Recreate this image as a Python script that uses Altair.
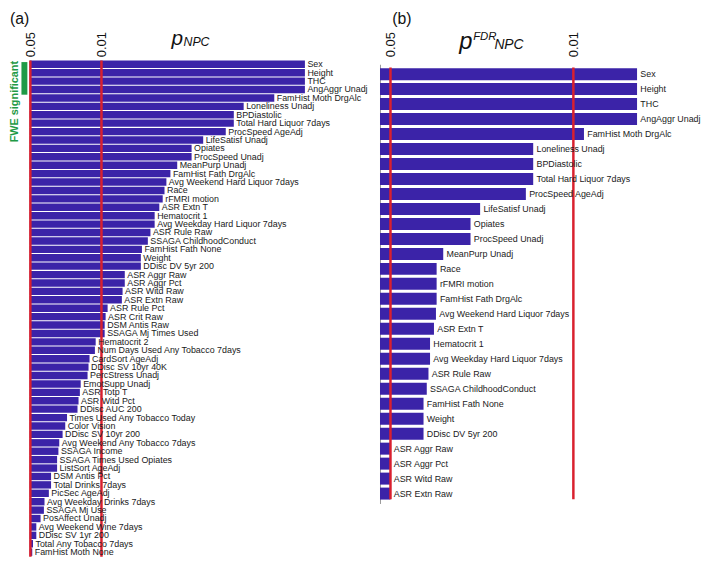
import math
import altair as alt
import pandas as pd

# ---------------- data ----------------
names_a = [
    "Sex", "Height", "THC", "AngAggr Unadj", "FamHist Moth DrgAlc",
    "Loneliness Unadj", "BPDiastolic", "Total Hard Liquor 7days", "ProcSpeed AgeAdj",
    "LifeSatisf Unadj", "Opiates", "ProcSpeed Unadj", "MeanPurp Unadj",
    "FamHist Fath DrgAlc", "Avg Weekend Hard Liquor 7days", "Race", "rFMRI motion",
    "ASR Extn T", "Hematocrit 1", "Avg Weekday Hard Liquor 7days", "ASR Rule Raw",
    "SSAGA ChildhoodConduct", "FamHist Fath None", "Weight", "DDisc DV 5yr 200",
    "ASR Aggr Raw", "ASR Aggr Pct", "ASR Witd Raw", "ASR Extn Raw", "ASR Rule Pct",
    "ASR Crit Raw", "DSM Antis Raw", "SSAGA Mj Times Used", "Hematocrit 2",
    "Num Days Used Any Tobacco 7days", "CardSort AgeAdj", "DDisc SV 10yr 40K",
    "PercStress Unadj", "EmotSupp Unadj", "ASR Totp T", "ASR Witd Pct", "DDisc AUC 200",
    "Times Used Any Tobacco Today", "Color Vision", "DDisc SV 10yr 200",
    "Avg Weekend Any Tobacco 7days", "SSAGA Income", "SSAGA Times Used Opiates",
    "ListSort AgeAdj", "DSM Antis Pct", "Total Drinks 7days", "PicSec AgeAdj",
    "Avg Weekday Drinks 7days", "SSAGA Mj Use", "PosAffect Unadj",
    "Avg Weekend Wine 7days", "DDisc SV 1yr 200", "Total Any Tobacco 7days",
    "FamHist Moth None",
]
p_npc = [
    0.0001, 0.0001, 0.0001, 0.0001, 0.0002,
    0.0004, 0.0005, 0.0005, 0.0006,
    0.0010, 0.0013, 0.0013, 0.0018,
    0.0021, 0.0023, 0.0024, 0.0025,
    0.0027, 0.0030, 0.0030, 0.0033,
    0.0035, 0.0040, 0.0041, 0.0041,
    0.0059, 0.0059, 0.0062, 0.0063, 0.0087,
    0.0091, 0.0093, 0.0093, 0.0114,
    0.0116, 0.0131, 0.0134,
    0.0137, 0.0160, 0.0163, 0.0168, 0.0172,
    0.0218, 0.0227, 0.0241,
    0.0260, 0.0265, 0.0273,
    0.0273, 0.0313, 0.0313, 0.0329,
    0.0363, 0.0368, 0.0397,
    0.0437, 0.0437, 0.0471,
    0.0479,
]

names_b = [
    "Sex", "Height", "THC", "AngAggr Unadj", "FamHist Moth DrgAlc",
    "Loneliness Unadj", "BPDiastolic", "Total Hard Liquor 7days", "ProcSpeed AgeAdj",
    "LifeSatisf Unadj", "Opiates", "ProcSpeed Unadj", "MeanPurp Unadj", "Race",
    "rFMRI motion", "FamHist Fath DrgAlc", "Avg Weekend Hard Liquor 7days",
    "ASR Extn T", "Hematocrit 1", "Avg Weekday Hard Liquor 7days", "ASR Rule Raw",
    "SSAGA ChildhoodConduct", "FamHist Fath None", "Weight", "DDisc DV 5yr 200",
    "ASR Aggr Raw", "ASR Aggr Pct", "ASR Witd Raw", "ASR Extn Raw",
]
p_fdr_npc = [
    0.00571, 0.00571, 0.00571, 0.00571, 0.00911,
    0.01424, 0.01424, 0.01424, 0.01519,
    0.02272, 0.02472, 0.02472, 0.03143, 0.03331,
    0.03331, 0.03331, 0.03351,
    0.03410, 0.03530, 0.03530, 0.03579,
    0.03633, 0.03738, 0.03738, 0.03738,
    0.05, 0.05, 0.05, 0.05,
]

thresholds = [0.05, 0.01]
threshold_labels = ["0.05", "0.01"]

# ---------------- styling ----------------
BAR = "#3b23a8"
RED = "#d9202e"
GREEN = "#1f9a46"
FONT = "Liberation Sans"

dfa = pd.DataFrame({"name": names_a, "p": p_npc})
dfb = pd.DataFrame({"name": names_b, "p": p_fdr_npc})
dft = pd.DataFrame({"p": thresholds, "label": threshold_labels})

NEGLOG = "-log(datum.p)/LN10"

loA, hiA = 1.295, 4.1133
loB, hiB = 1.261, 2.30
xsA = alt.Scale(domain=[loA, hiA], range=[0, 290])
xsB = alt.Scale(domain=[loB, hiB], range=[354.3, 629.3])
ysA = alt.Scale(range=[0, 501], paddingInner=0.12, paddingOuter=0)
ysB = alt.Scale(range=[3.7, 448], paddingInner=0.2, paddingOuter=0.26)

tick_vals = [-math.log10(t) for t in thresholds]
label_expr = "datum.value < 1.5 ? '%s' : '%s'" % (threshold_labels[0], threshold_labels[1])


def top_axis():
    return alt.Axis(
        orient="top", values=tick_vals, labelExpr=label_expr, labelAngle=270,
        labelAlign="left", labelBaseline="middle", labelPadding=4, ticks=False,
        tickSize=0, domain=False, grid=False, title=None, labelFont=FONT,
        labelFontSize=13, labelColor="#111111",
    )


def txt(s, x, y, size, style="normal", weight="normal", color="#111111",
        align="left", baseline="alphabetic", angle=0):
    kw = dict(text=s, font=FONT, fontSize=size, fontStyle=style, fontWeight=weight,
              color=color, align=align, baseline=baseline)
    if angle:
        kw["angle"] = angle
    return alt.Chart(dft).transform_filter("datum.label == '0.05'").mark_text(**kw).encode(
        x=alt.value(x), y=alt.value(y))


# ---------------- panel (a) ----------------
baseA = alt.Chart(dfa).transform_calculate(v=NEGLOG)
barsA = baseA.mark_bar(color=BAR).encode(
    x=alt.X("v:Q", scale=xsA, axis=top_axis()),
    x2=alt.datum(loA),
    y=alt.Y("name:N", sort=names_a, scale=ysA, axis=None),
)
rulesA = alt.Chart(dft).transform_calculate(v=NEGLOG).mark_rule(
    color=RED, strokeWidth=2.5).encode(x=alt.X("v:Q", scale=xsA, axis=top_axis()))
textA = baseA.mark_text(align="left", baseline="middle", dx=2.5, fontSize=9,
                        font=FONT, color="#1a1a1a").encode(
    x=alt.X("v:Q", scale=xsA, axis=top_axis()),
    y=alt.Y("name:N", sort=names_a, scale=ysA, axis=None),
    text="name:N",
)
fweBar = alt.Chart(dft).transform_filter("datum.label == '0.05'").mark_rect(
    color=GREEN).encode(x=alt.value(-8.4), x2=alt.value(-2.4),
                        y=alt.value(1.5), y2=alt.value(34.5))
fweText = txt("FWE significant", -15, 41.5, 11, weight="bold", color=GREEN,
              align="center", baseline="middle", angle=270)
labA = txt("(a)", -20, -50, 16, baseline="top")
pA = txt("p", 143.3, -15.3, 21, style="italic")
subA = txt("NPC", 155.5, -14.7, 12.5, style="italic")

panelA = alt.layer(barsA, rulesA, textA, fweBar, fweText, labA, pA, subA)

# ---------------- panel (b) ----------------
yaxB = alt.Axis(orient="left", offset=-354.3, labels=False, ticks=False,
                domain=True, domainColor="#9a9a9a", domainWidth=1,
                grid=False, title=None)
baseB = alt.Chart(dfb).transform_calculate(v=NEGLOG)
barsB = baseB.mark_bar(color=BAR).encode(
    x=alt.X("v:Q", scale=xsB, axis=top_axis()),
    x2=alt.datum(loB),
    y=alt.Y("name:N", sort=names_b, scale=ysB, axis=yaxB),
)
rulesB = alt.Chart(dft).transform_calculate(v=NEGLOG).mark_rule(
    color=RED, strokeWidth=2.5).encode(
    x=alt.X("v:Q", scale=xsB, axis=top_axis()),
    y=alt.value(7), y2=alt.value(443.7))
textB = baseB.mark_text(align="left", baseline="middle", dx=3.3, fontSize=9,
                        font=FONT, color="#1a1a1a").encode(
    x=alt.X("v:Q", scale=xsB, axis=top_axis()),
    y=alt.Y("name:N", sort=names_b, scale=ysB, axis=yaxB),
    text="name:N",
)
labB = txt("(b)", 366.6, -50, 16, baseline="top")
pB = txt("p", 434.5, -11.3, 24, style="italic")
supB = txt("FDR", 448.5, -21.3, 11.5, style="italic")
subB = txt("NPC", 470, -11.3, 14, style="italic")

panelB = alt.layer(barsB, rulesB, textB, labB, pB, supB, subB)

chart = (
    alt.layer(panelA, panelB)
    .resolve_scale(x="independent", y="independent")
    .properties(width=630, height=502, padding=0)
    .configure_view(stroke=None)
)

chart.save("out.html", embed_options={"renderer": "svg", "actions": False})
